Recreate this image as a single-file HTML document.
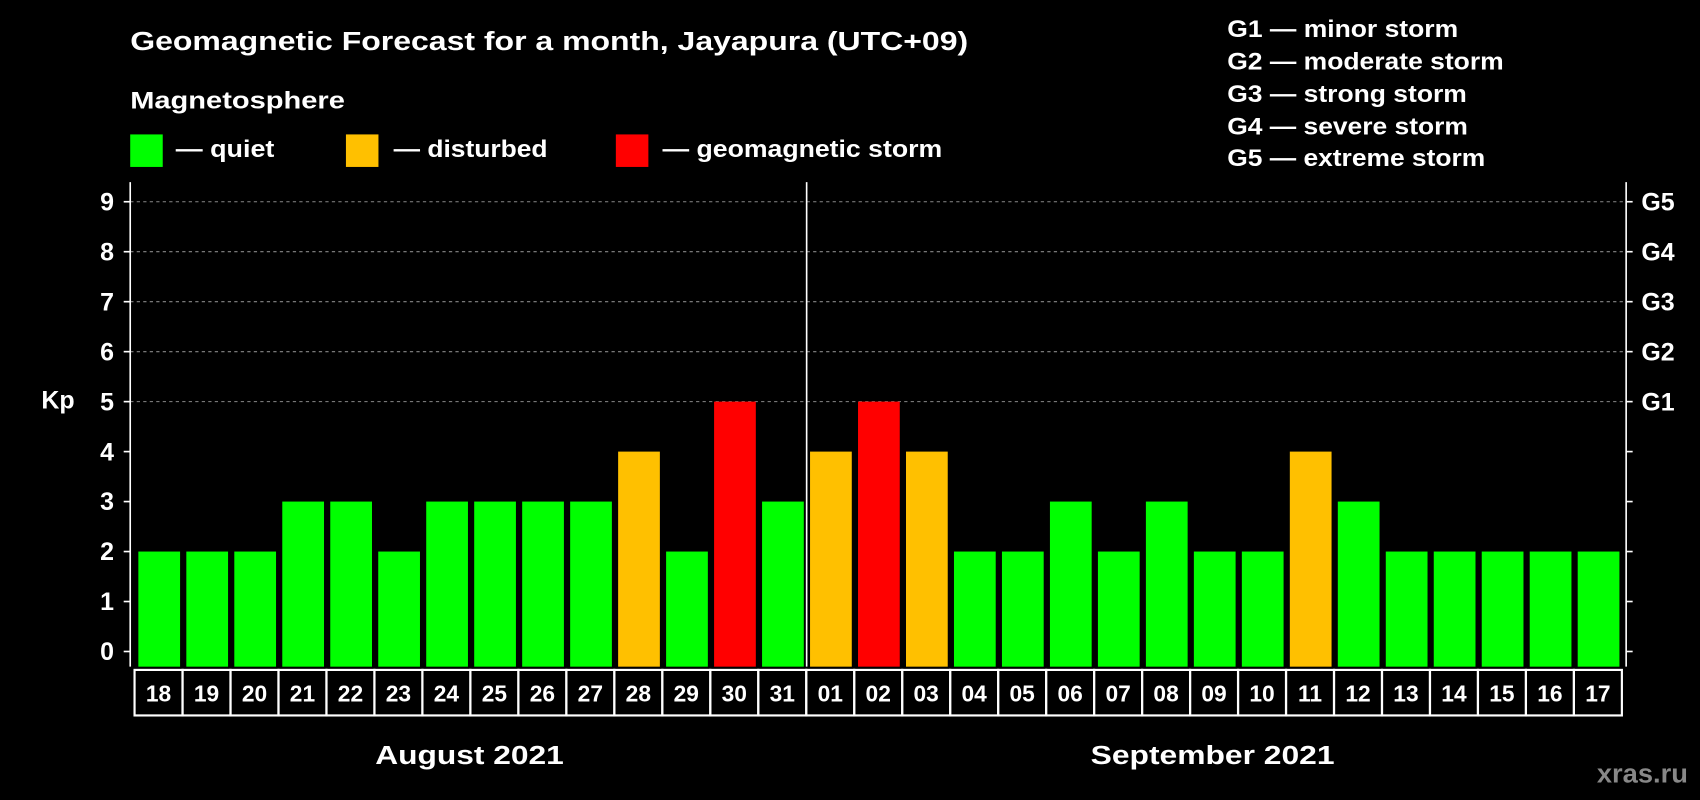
<!DOCTYPE html>
<html><head><meta charset="utf-8"><style>
html,body{margin:0;padding:0;background:#000;}
svg{display:block;font-family:"Liberation Sans",Arial,sans-serif;font-weight:bold;}
</style></head><body>
<svg id="chart" width="1700" height="800" viewBox="0 0 1568 738" xmlns="http://www.w3.org/2000/svg">
<rect width="1568" height="738" fill="#000"/>
<text x="120" y="46" fill="#fff" font-size="24" textLength="773" lengthAdjust="spacingAndGlyphs">Geomagnetic Forecast for a month, Jayapura (UTC+09)</text>
<text x="120" y="100" fill="#fff" font-size="22" textLength="198" lengthAdjust="spacingAndGlyphs">Magnetosphere</text>
<g><rect x="120" y="124" width="30" height="30" fill="#00ff00"/><text x="162" y="145" fill="#fff" font-size="22" textLength="91" lengthAdjust="spacingAndGlyphs">— quiet</text></g>
<g><rect x="319" y="124" width="30" height="30" fill="#ffc000"/><text x="363" y="145" fill="#fff" font-size="22" textLength="142" lengthAdjust="spacingAndGlyphs">— disturbed</text></g>
<g><rect x="568" y="124" width="30" height="30" fill="#ff0000"/><text x="611" y="145" fill="#fff" font-size="22" textLength="258" lengthAdjust="spacingAndGlyphs">— geomagnetic storm</text></g>
<g fill="#fff" font-size="22">
<text x="1132" y="34" textLength="213" lengthAdjust="spacingAndGlyphs">G1 — minor storm</text>
<text x="1132" y="64" textLength="255" lengthAdjust="spacingAndGlyphs">G2 — moderate storm</text>
<text x="1132" y="94" textLength="221" lengthAdjust="spacingAndGlyphs">G3 — strong storm</text>
<text x="1132" y="124" textLength="222" lengthAdjust="spacingAndGlyphs">G4 — severe storm</text>
<text x="1132" y="153" textLength="238" lengthAdjust="spacingAndGlyphs">G5 — extreme storm</text>
</g>
<text x="38" y="377" fill="#fff" font-size="23">Kp</text>
<g id="grid"></g>
<g id="bars"></g>
<g id="axes"></g>
<text x="346" y="705" fill="#fff" font-size="24" textLength="174" lengthAdjust="spacingAndGlyphs">August 2021</text>
<text x="1006" y="705" fill="#fff" font-size="24" textLength="225" lengthAdjust="spacingAndGlyphs">September 2021</text>
<text x="1473" y="722" fill="#888" font-size="24" textLength="84" lengthAdjust="spacingAndGlyphs">xras.ru</text>
</svg>
<script>
const days = ["18","19","20","21","22","23","24","25","26","27","28","29","30","31","01","02","03","04","05","06","07","08","09","10","11","12","13","14","15","16","17"];
const kpValues = [2,2,2,3,3,2,3,3,3,3,4,2,5,3,4,5,4,2,2,3,2,3,2,2,4,3,2,2,2,2,2];
const yTicks = [0,1,2,3,4,5,6,7,8,9];
const gLabels = ["G1","G2","G3","G4","G5"];
const NS="http://www.w3.org/2000/svg";
const x0=124, colW=44.26, yTop=168, yBot=615;
function yScale(v){return 601 - v*46.1;}
function xScale(i){return x0 + i*colW;}
function mk(tag,attrs,parent){const e=document.createElementNS(NS,tag);for(const k in attrs)e.setAttribute(k,attrs[k]);parent.appendChild(e);return e;}
function colorFor(v){return v>=5?"#ff0000":(v>=4?"#ffc000":"#00ff00");}
const grid=document.getElementById("grid"), bars=document.getElementById("bars"), axes=document.getElementById("axes");
yTicks.forEach(v=>{
  const y=yScale(v);
  if(v>=5){const l=mk("line",{x1:120,x2:1500,y1:y,y2:y,stroke:"#888","stroke-dasharray":"3,3","stroke-width":1},grid);
    
    }
  const t=mk("line",{x1:114,x2:120,y1:y,y2:y,stroke:"#fff","stroke-width":1.5},axes);
  
  
  const t2=mk("line",{x1:1500,x2:1506,y1:y,y2:y,stroke:"#fff","stroke-width":1.5},axes);
  
  
  const lb=mk("text",{x:105,y:y+8,fill:"#fff","font-size":23,"text-anchor":"end"},axes);
  lb.textContent=v;
  
  
  if(v>=5){const g=mk("text",{x:1514,y:y+8,fill:"#fff","font-size":23},axes);
    g.textContent=gLabels[v-5];
    
    }
});
kpValues.forEach((v,i)=>{
  const b=mk("rect",{x:xScale(i)+3.5,y:yScale(v),width:38.5,height:yBot-yScale(v),fill:colorFor(v)},bars);
  
  
  const c=mk("rect",{x:xScale(i),y:618,width:colW,height:42,fill:"none",stroke:"#fff","stroke-width":2},axes);
  
  
  const t=mk("text",{x:xScale(i)+colW/2,y:647,fill:"#fff","font-size":21,"text-anchor":"middle"},axes);
  t.textContent=days[i];
  
  
});
const frame=[["left-axis",120,120],["right-axis",1500,1500],["month-divider",744,744]];
frame.forEach(f=>{const l=mk("line",{x1:f[1],x2:f[2],y1:yTop,y2:yBot,stroke:"#fff","stroke-width":1.5},axes);
  
  });
</script>
</body></html>
